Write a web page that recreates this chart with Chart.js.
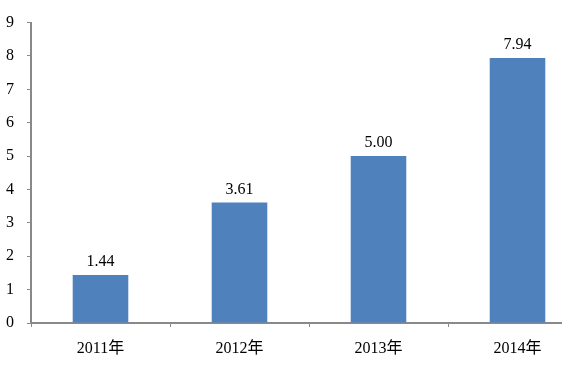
<!DOCTYPE html>
<html>
<head>
<meta charset="utf-8">
<script src="https://cdn.jsdelivr.net/npm/chart.js@4.4.1/dist/chart.umd.min.js"></script>
<style>
  html, body { margin: 0; padding: 0; background: #fff; overflow: hidden; }
  #wrap { width: 562px; height: 369px; overflow: hidden; }
  canvas { display: block; }
</style>
</head>
<body>
<div id="wrap"><canvas id="chart" width="587" height="369"></canvas></div>
<script>
const years = ["2011年", "2012年", "2013年", "2014年"];
const values = [1.44, 3.61, 5.00, 7.94];
const yTicks = [0, 1, 2, 3, 4, 5, 6, 7, 8, 9];

const serif = "'Liberation Serif', 'Times New Roman', 'Noto Sans CJK SC', serif";

// Labels above each bar
const valueLabels = {
    id: "valueLabels",
    afterDatasetsDraw(chart) {
        const ctx = chart.ctx;
        const meta = chart.getDatasetMeta(0);
        ctx.save();
        ctx.font = "16px " + serif;
        ctx.fillStyle = "#000";
        ctx.textAlign = "center";
        ctx.textBaseline = "bottom";
        meta.data.forEach((bar, i) => {
            ctx.fillText(values[i].toFixed(2), bar.x, bar.y - 5);
        });
        ctx.restore();
    }
};

new Chart(document.getElementById("chart"), {
    type: "bar",
    data: {
        labels: years,
        datasets: [{
            data: values,
            backgroundColor: "#4f81bd",
            borderWidth: 0,
            categoryPercentage: 1,
            barPercentage: 0.4
        }]
    },
    options: {
        responsive: false,
        animation: false,
        layout: { padding: { top: 20, left: 0, right: 0, bottom: 0 } },
        plugins: {
            legend: { display: false },
            tooltip: { enabled: false }
        },
        scales: {
            x: {
                grid: {
                    offset: true,
                    drawOnChartArea: false,
                    drawTicks: true,
                    tickLength: 4,
                    color: "#898989"
                },
                border: { color: "#898989", width: 2 },
                ticks: {
                    color: "#000",
                    font: { family: serif, size: 16 },
                    padding: 12
                },
                afterFit(scale) { scale.height = 46; }
            },
            y: {
                min: 0,
                max: 9,
                afterBuildTicks(scale) {
                    scale.ticks = yTicks.map(v => ({ value: v }));
                },
                grid: {
                    drawOnChartArea: false,
                    drawTicks: true,
                    tickLength: 4,
                    color: "#898989"
                },
                border: { color: "#898989", width: 2 },
                ticks: {
                    color: "#000",
                    font: { family: serif, size: 16 },
                    padding: 13
                },
                afterFit(scale) { scale.width = 31; }
            }
        }
    },
    plugins: [valueLabels]
});
</script>
</body>
</html>
